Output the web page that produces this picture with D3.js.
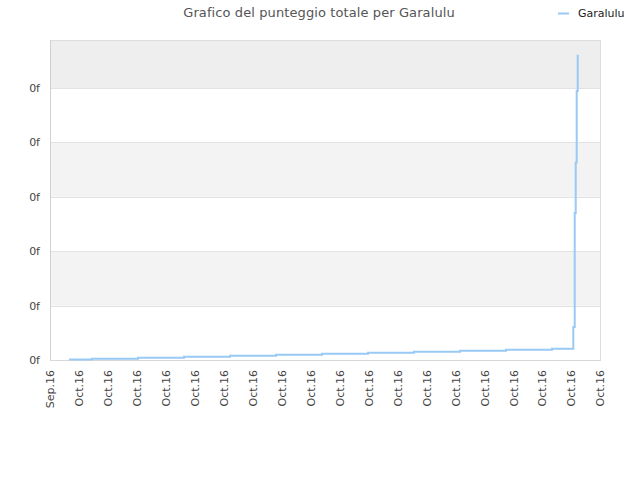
<!DOCTYPE html>
<html>
<head>
<meta charset="utf-8">
<script src="https://cdn.jsdelivr.net/npm/d3@7/dist/d3.min.js"></script>
<style>
  html, body { margin: 0; padding: 0; background: #fff; }
  svg { display: block; font-family: "DejaVu Sans", sans-serif; }
</style>
</head>
<body>
<div id="chart"></div>
<script>
// ---- data ----
const title = "Grafico del punteggio totale per Garalulu";
const seriesName = "Garalulu";
// x positions in tick-index units (0 = first tick "Sep.16")
const xValues = [0.656, 1.451, 3.040, 4.629, 6.218, 7.807, 9.396, 10.986, 12.575, 14.164, 15.753, 17.342, 18.078, 18.126, 18.161, 18.195, 18.230];
// cumulative score (relative units; one grid step = 100)
const yValues = [1.0, 2.4, 4.2, 6.1, 7.9, 9.7, 11.5, 13.4, 15.3, 17.1, 18.9, 20.8, 60.7, 270, 362.7, 494.5, 560.7];
const xTickLabels = ["Sep.16","Oct.16","Oct.16","Oct.16","Oct.16","Oct.16","Oct.16","Oct.16","Oct.16","Oct.16",
                     "Oct.16","Oct.16","Oct.16","Oct.16","Oct.16","Oct.16","Oct.16","Oct.16","Oct.16","Oct.16"];
const yTickValues = [0, 100, 200, 300, 400, 500];
const yTickLabels = ["0f","0f","0f","0f","0f","0f"];
const yMax = 588;

// ---- layout ----
const W = 640, H = 480;
const m = { left: 50, right: 40, top: 40, bottom: 120 };
const iw = W - m.left - m.right, ih = H - m.top - m.bottom;

const svg = d3.select("#chart").append("svg").attr("width", W).attr("height", H);

const x = d3.scaleLinear().domain([0, xTickLabels.length - 1]).range([m.left, m.left + iw]);
const y = d3.scaleLinear().domain([0, yMax]).range([m.top + ih, m.top]);

// bands
const bandEdges = yTickValues.concat([yMax]);
for (let i = 0; i < bandEdges.length - 1; i++) {
  if (i % 2 === 1) {
    svg.append("rect")
      .attr("x", m.left).attr("width", iw)
      .attr("y", y(bandEdges[i + 1])).attr("height", y(bandEdges[i]) - y(bandEdges[i + 1]))
      .attr("fill", i === bandEdges.length - 2 ? "#eeeeee" : "#f3f3f3");
  }
}

// grid lines
svg.append("g").selectAll("line").data(yTickValues.slice(1)).join("line")
  .attr("x1", m.left).attr("x2", m.left + iw)
  .attr("y1", d => Math.round(y(d)) + 0.5).attr("y2", d => Math.round(y(d)) + 0.5)
  .attr("stroke", "#e2e2e2").attr("stroke-width", 1);

// plot frame
svg.append("rect")
  .attr("x", m.left + 0.5).attr("y", m.top + 0.5)
  .attr("width", iw).attr("height", ih)
  .attr("fill", "none").attr("stroke", "#dddddd");

// y axis
const yAxis = d3.axisLeft(y).tickValues(yTickValues)
  .tickFormat((d, i) => yTickLabels[i]).tickSize(0).tickPadding(10);
const gy = svg.append("g").attr("transform", `translate(${m.left},0)`).call(yAxis);
gy.select(".domain").attr("stroke", "#d0d0d0");
gy.selectAll("text").attr("font-size", 11).attr("fill", "#444").attr("font-family", "DejaVu Sans, sans-serif");

// x axis
const xAxis = d3.axisBottom(x).tickValues(d3.range(xTickLabels.length))
  .tickFormat((d, i) => xTickLabels[i]).tickSize(0);
const gx = svg.append("g").attr("transform", `translate(0,${m.top + ih})`).call(xAxis);
gx.select(".domain").attr("stroke", "#d8d8d8");
gx.selectAll("text")
  .attr("font-size", 11).attr("fill", "#444").attr("font-family", "DejaVu Sans, sans-serif")
  .attr("text-anchor", "end")
  .attr("transform", "rotate(-90)")
  .attr("x", -10).attr("y", 0).attr("dy", "0.35em");

// series line (step)
const pts = xValues.map((v, i) => [v, yValues[i]]);
const line = d3.line().x(d => x(d[0])).y(d => y(d[1])).curve(d3.curveStepAfter);
svg.append("path").datum(pts)
  .attr("d", line).attr("fill", "none")
  .attr("stroke", "#99c9f5").attr("stroke-width", 2);

// title
svg.append("text").attr("x", 319).attr("y", 17)
  .attr("text-anchor", "middle").attr("font-size", 13).attr("fill", "#555")
  .attr("letter-spacing", 0.1)
  .text(title);

// legend
svg.append("line").attr("x1", 558).attr("x2", 569).attr("y1", 13.5).attr("y2", 13.5)
  .attr("stroke", "#99c9f5").attr("stroke-width", 2);
svg.append("text").attr("x", 578).attr("y", 17).attr("font-size", 11).attr("fill", "#222")
  .text(seriesName);
</script>
</body>
</html>
